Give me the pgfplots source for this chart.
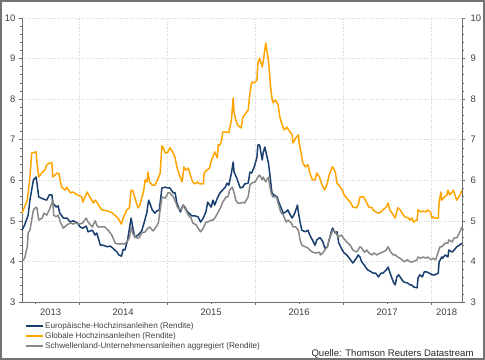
\documentclass[border=0pt]{standalone}
\usepackage{fontspec}
\setmainfont{Liberation Sans}
\usepackage{pgfplots}
\usepackage{pgfplotstable}
\pgfplotsset{compat=1.18}
\definecolor{euro}{RGB}{24,62,110}
\definecolor{glob}{RGB}{255,163,0}
\definecolor{emk}{RGB}{135,135,135}
\definecolor{axcol}{RGB}{110,110,110}
\definecolor{txtcol}{RGB}{64,64,64}
\definecolor{gridcol}{RGB}{210,210,210}

\pgfplotstableread{
x y
2013.35 4.77
2013.38 4.90
2013.42 5.14
2013.44 5.51
2013.46 5.76
2013.48 6.01
2013.51 6.08
2013.52 5.93
2013.54 5.59
2013.59 5.54
2013.63 5.51
2013.66 5.64
2013.69 5.64
2013.70 5.44
2013.74 5.34
2013.76 5.37
2013.78 5.19
2013.82 5.07
2013.86 5.07
2013.90 4.97
2013.93 5.00
2013.98 4.95
2014.01 4.85
2014.04 4.82
2014.08 4.87
2014.10 4.73
2014.15 4.77
2014.18 4.65
2014.20 4.70
2014.24 4.40
2014.27 4.40
2014.32 4.36
2014.35 4.38
2014.38 4.33
2014.43 4.23
2014.45 4.16
2014.48 4.13
2014.50 4.30
2014.52 4.28
2014.55 4.53
2014.59 5.07
2014.61 4.82
2014.63 4.60
2014.67 4.65
2014.71 4.75
2014.74 4.97
2014.77 5.22
2014.78 5.39
2014.79 5.51
2014.83 5.27
2014.86 5.19
2014.88 5.24
2014.91 5.27
2014.94 5.81
2014.98 5.83
2015.01 5.81
2015.03 5.81
2015.07 5.69
2015.09 5.69
2015.11 5.44
2015.15 5.22
2015.18 5.39
2015.20 5.34
2015.23 5.22
2015.25 5.19
2015.28 5.12
2015.32 5.12
2015.35 5.10
2015.38 4.97
2015.41 5.07
2015.44 5.22
2015.46 5.46
2015.50 5.34
2015.52 5.51
2015.54 5.39
2015.57 5.56
2015.60 5.69
2015.63 5.76
2015.66 5.83
2015.68 5.93
2015.70 5.88
2015.73 6.18
2015.75 6.45
2015.76 6.20
2015.79 6.06
2015.83 5.81
2015.86 5.83
2015.88 5.91
2015.92 5.93
2015.94 6.20
2015.96 6.18
2015.99 6.33
2016.02 6.57
2016.03 6.87
2016.05 6.87
2016.08 6.50
2016.09 6.67
2016.11 6.82
2016.13 6.62
2016.15 6.43
2016.17 6.08
2016.19 5.69
2016.21 5.64
2016.25 5.59
2016.26 5.51
2016.29 5.34
2016.32 5.19
2016.35 5.22
2016.37 5.27
2016.40 5.14
2016.42 5.07
2016.45 5.19
2016.48 5.39
2016.49 5.22
2016.51 4.97
2016.53 4.77
2016.57 4.73
2016.60 4.77
2016.62 4.65
2016.65 4.53
2016.68 4.40
2016.70 4.53
2016.73 4.58
2016.74 4.58
2016.77 4.48
2016.79 4.33
2016.82 4.36
2016.84 4.53
2016.87 4.77
2016.88 4.82
2016.91 4.70
2016.93 4.73
2016.95 4.45
2016.99 4.28
2017.01 4.21
2017.04 4.16
2017.07 4.08
2017.10 3.99
2017.11 3.96
2017.15 4.08
2017.17 4.16
2017.19 4.11
2017.21 3.99
2017.24 3.91
2017.26 3.84
2017.28 3.79
2017.32 3.74
2017.34 3.71
2017.37 3.71
2017.40 3.62
2017.43 3.71
2017.45 3.71
2017.49 3.79
2017.51 3.86
2017.54 3.67
2017.57 3.49
2017.59 3.42
2017.61 3.62
2017.63 3.67
2017.67 3.54
2017.69 3.49
2017.73 3.47
2017.76 3.42
2017.78 3.42
2017.80 3.37
2017.84 3.35
2017.85 3.59
2017.87 3.67
2017.90 3.62
2017.92 3.74
2017.95 3.74
2017.98 3.71
2018.01 3.67
2018.04 3.67
2018.08 3.71
2018.09 3.99
2018.12 4.11
2018.13 4.08
2018.16 4.16
2018.19 4.11
2018.20 4.28
2018.24 4.23
2018.26 4.28
2018.29 4.36
2018.32 4.40
2018.35 4.45
}\europe

\pgfplotstableread{
x y
2013.35 5.19
2013.41 5.51
2013.44 6.08
2013.46 6.67
2013.51 6.70
2013.52 6.45
2013.54 6.08
2013.58 6.20
2013.61 6.25
2013.63 6.38
2013.67 6.43
2013.69 6.43
2013.70 6.08
2013.75 6.18
2013.77 6.16
2013.80 5.83
2013.84 5.76
2013.86 5.83
2013.90 5.69
2013.93 5.71
2013.98 5.64
2014.03 5.59
2014.04 5.46
2014.09 5.71
2014.12 5.59
2014.16 5.44
2014.18 5.51
2014.20 5.46
2014.24 5.32
2014.26 5.27
2014.33 5.24
2014.38 5.19
2014.44 5.07
2014.48 4.92
2014.50 5.07
2014.54 5.27
2014.57 5.32
2014.59 5.76
2014.61 5.74
2014.65 5.44
2014.67 5.32
2014.69 5.39
2014.71 5.56
2014.73 5.71
2014.75 6.01
2014.77 5.96
2014.78 6.20
2014.80 5.96
2014.83 5.88
2014.86 5.88
2014.90 6.06
2014.92 6.18
2014.94 6.85
2014.95 6.82
2014.98 6.67
2015.01 6.70
2015.03 6.80
2015.07 6.67
2015.09 6.55
2015.11 6.33
2015.13 6.18
2015.17 5.96
2015.19 6.33
2015.21 6.25
2015.24 6.30
2015.27 6.08
2015.29 5.96
2015.32 5.91
2015.34 5.96
2015.37 5.91
2015.41 5.91
2015.42 6.18
2015.45 6.25
2015.48 6.30
2015.51 6.55
2015.52 6.57
2015.54 6.70
2015.57 6.55
2015.58 6.87
2015.60 6.87
2015.62 6.99
2015.63 7.19
2015.68 7.19
2015.70 7.17
2015.73 7.49
2015.75 8.03
2015.76 7.66
2015.78 7.49
2015.80 7.36
2015.84 7.29
2015.86 7.56
2015.88 7.61
2015.92 7.73
2015.94 8.15
2015.96 8.42
2015.99 8.40
2016.02 8.47
2016.03 8.89
2016.05 9.01
2016.08 8.79
2016.09 8.92
2016.12 9.38
2016.15 8.96
2016.16 8.72
2016.18 8.18
2016.20 7.91
2016.23 7.98
2016.25 7.91
2016.26 7.86
2016.28 7.56
2016.30 7.41
2016.33 7.24
2016.36 7.31
2016.38 7.24
2016.42 7.12
2016.43 6.92
2016.46 7.04
2016.49 7.12
2016.50 6.92
2016.52 6.70
2016.54 6.43
2016.57 6.33
2016.60 6.38
2016.62 6.18
2016.65 6.01
2016.68 6.01
2016.70 6.18
2016.73 6.08
2016.74 6.01
2016.77 5.83
2016.79 5.76
2016.82 5.93
2016.84 6.13
2016.87 6.30
2016.88 6.33
2016.91 6.20
2016.93 5.93
2016.95 5.88
2016.99 5.76
2017.01 5.64
2017.04 5.56
2017.08 5.46
2017.11 5.34
2017.15 5.32
2017.17 5.39
2017.19 5.59
2017.23 5.59
2017.24 5.56
2017.27 5.44
2017.29 5.34
2017.33 5.32
2017.34 5.27
2017.37 5.22
2017.40 5.19
2017.43 5.22
2017.45 5.27
2017.49 5.34
2017.51 5.44
2017.53 5.27
2017.57 5.14
2017.59 5.07
2017.62 5.32
2017.65 5.27
2017.67 5.19
2017.70 5.10
2017.74 5.07
2017.76 5.02
2017.78 5.07
2017.80 4.97
2017.84 5.02
2017.85 5.27
2017.88 5.22
2017.91 5.24
2017.94 5.22
2017.96 5.27
2017.99 5.22
2018.01 5.07
2018.02 5.10
2018.04 5.07
2018.08 5.07
2018.09 5.46
2018.11 5.71
2018.12 5.51
2018.15 5.59
2018.18 5.64
2018.19 5.76
2018.21 5.64
2018.24 5.71
2018.25 5.76
2018.27 5.64
2018.29 5.51
2018.33 5.64
2018.35 5.76
}\globalhy

\pgfplotstableread{
x y
2013.35 3.99
2013.38 4.08
2013.41 4.36
2013.42 4.70
2013.44 4.77
2013.46 5.02
2013.48 5.27
2013.51 5.34
2013.52 5.32
2013.54 5.02
2013.58 5.07
2013.60 5.19
2013.63 5.14
2013.66 5.27
2013.69 5.44
2013.70 5.51
2013.71 5.14
2013.74 5.10
2013.76 5.14
2013.79 4.95
2013.82 4.82
2013.86 4.90
2013.90 4.95
2013.93 4.92
2013.96 4.95
2014.00 4.92
2014.04 4.95
2014.08 5.07
2014.10 4.97
2014.15 4.85
2014.18 5.00
2014.21 4.85
2014.26 4.85
2014.29 4.85
2014.33 4.77
2014.37 4.65
2014.41 4.45
2014.44 4.43
2014.48 4.43
2014.50 4.43
2014.52 4.43
2014.54 4.48
2014.57 4.58
2014.59 4.85
2014.61 4.68
2014.65 4.58
2014.68 4.58
2014.71 4.70
2014.75 4.73
2014.78 4.82
2014.80 4.85
2014.84 4.75
2014.88 4.87
2014.90 4.95
2014.92 5.27
2014.94 5.59
2014.98 5.56
2015.01 5.69
2015.03 5.69
2015.07 5.59
2015.10 5.44
2015.12 5.32
2015.16 5.27
2015.18 5.39
2015.21 5.27
2015.24 5.14
2015.27 5.07
2015.29 4.95
2015.33 4.90
2015.35 4.82
2015.38 4.73
2015.41 4.82
2015.44 4.97
2015.46 4.97
2015.50 5.02
2015.52 5.02
2015.55 5.10
2015.58 5.22
2015.61 5.34
2015.63 5.46
2015.67 5.59
2015.69 5.59
2015.71 5.76
2015.74 5.83
2015.76 5.69
2015.78 5.51
2015.80 5.44
2015.84 5.44
2015.86 5.46
2015.88 5.44
2015.92 5.59
2015.94 5.88
2015.96 5.93
2016.00 5.96
2016.03 6.08
2016.05 6.13
2016.08 6.01
2016.09 6.08
2016.12 5.96
2016.15 6.08
2016.16 5.93
2016.18 5.69
2016.20 5.59
2016.24 5.59
2016.26 5.44
2016.29 5.22
2016.32 5.14
2016.35 4.97
2016.37 5.02
2016.41 4.95
2016.43 4.85
2016.46 4.85
2016.49 4.77
2016.51 4.53
2016.53 4.40
2016.57 4.36
2016.60 4.33
2016.62 4.28
2016.65 4.23
2016.68 4.21
2016.70 4.21
2016.73 4.23
2016.74 4.16
2016.77 4.21
2016.79 4.28
2016.82 4.36
2016.84 4.53
2016.87 4.70
2016.88 4.77
2016.91 4.73
2016.93 4.65
2016.94 4.60
2016.98 4.65
2017.00 4.58
2017.04 4.48
2017.08 4.40
2017.11 4.28
2017.15 4.23
2017.17 4.28
2017.19 4.36
2017.21 4.33
2017.24 4.23
2017.27 4.28
2017.29 4.21
2017.33 4.16
2017.35 4.21
2017.38 4.16
2017.42 4.21
2017.45 4.23
2017.49 4.28
2017.51 4.36
2017.54 4.23
2017.57 4.16
2017.59 4.16
2017.62 4.11
2017.67 4.04
2017.69 3.99
2017.73 4.04
2017.76 3.99
2017.79 3.99
2017.84 4.04
2017.85 4.11
2017.88 4.08
2017.91 4.11
2017.94 4.08
2017.96 4.11
2018.00 4.04
2018.02 4.08
2018.05 4.04
2018.08 4.23
2018.10 4.36
2018.12 4.36
2018.16 4.45
2018.19 4.45
2018.20 4.53
2018.24 4.48
2018.26 4.58
2018.29 4.58
2018.32 4.70
2018.35 4.85
}\emerging

\pgfplotsset{common/.style={
  scale only axis, width=440bp, height=284bp,
  xmin=2013.35, xmax=2018.35, ymin=3, ymax=10,
  at={(0,0)}, anchor=south west,
  axis line style={axcol, line width=0.8bp},
  tick style={axcol, line width=0.6bp},
  major tick length=3bp, minor tick length=2bp,
  tick align=outside,
  ytick={3,...,10}, minor y tick num=4,
  ticklabel style={font=\fontsize{9.5}{11}\selectfont, text=txtcol},
  /pgf/number format/assume math mode=true,
  /pgf/number format/1000 sep={},
  clip=false,
}}

\begin{document}
\begin{tikzpicture}
\begin{axis}[common,
  axis x line*=bottom, axis y line*=left,
  xtick={2014,...,2018}, xticklabels={},
  minor xtick={2013.5,2014.5,2015.5,2016.5,2017.5},
  extra x ticks={2013.675,2014.5,2015.5,2016.5,2017.5,2018.175},
  extra x tick labels={2013,2014,2015,2016,2017,2018},
  extra x tick style={major tick length=0pt, grid=none, xticklabel style={yshift=-3bp}},
  xmajorgrids, ymajorgrids,
  major grid style={gridcol, dotted, line width=0.6bp},
  legend style={draw=none, fill=none, at={(0,0)}, anchor=north west,
    xshift=3bp, yshift=-19bp, font=\fontsize{8.2}{9}\selectfont, text=txtcol,
    inner sep=0pt, row sep=0pt,
    nodes={inner sep=1bp, text height=6bp, text depth=2bp}},
  legend cell align=left,
  legend image code/.code={\draw[#1, line width=2bp] (0bp,0bp) -- (17bp,0bp);},
]
\addplot[euro, line width=1.5bp, line join=round] table[x=x,y=y] {\europe};
\addlegendentry{Europäische-Hochzinsanleihen (Rendite)}
\addplot[glob, line width=1.5bp, line join=round] table[x=x,y=y] {\globalhy};
\addlegendentry{Globale Hochzinsanleihen (Rendite)}
\addplot[emk, line width=1.5bp, line join=round] table[x=x,y=y] {\emerging};
\addlegendentry{Schwellenland-Unternehmensanleihen aggregiert (Rendite)}
\coordinate (bl) at ([xshift=-22bp,yshift=-58bp]rel axis cs:0,0);
\coordinate (tr) at ([xshift=23bp,yshift=18bp]rel axis cs:1,1);
\node[anchor=base east, font=\fontsize{9.6}{11}\selectfont, text=black!85]
  at ([xshift=15bp,yshift=-55bp]rel axis cs:1,0) {Quelle: Thomson Reuters Datastream};
\end{axis}
\begin{axis}[common,
  axis y line*=right, axis x line=none,
  yticklabel style={xshift=2bp},
]
\end{axis}
\pgfresetboundingbox
\useasboundingbox (bl) rectangle (tr);
\draw[black!55, line width=1.6bp] ([shift={(0.8bp,0.8bp)}]bl) rectangle ([shift={(-0.8bp,-0.8bp)}]tr);
\end{tikzpicture}
\end{document}
